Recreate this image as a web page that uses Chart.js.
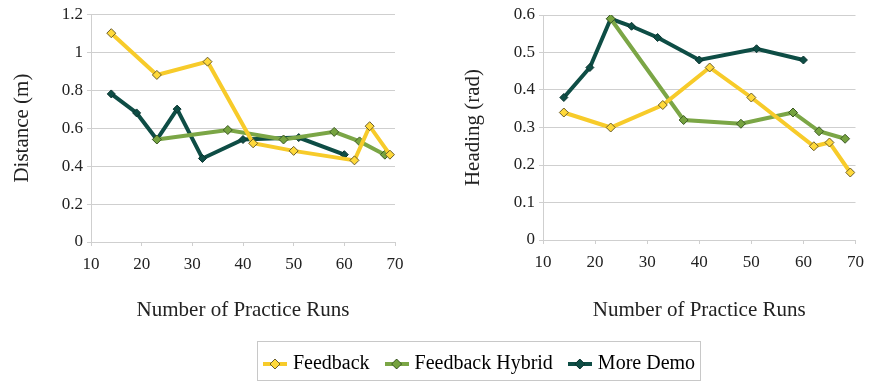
<!DOCTYPE html>
<html><head><meta charset="utf-8">
<script src="https://cdn.jsdelivr.net/npm/chart.js@4/dist/chart.umd.min.js"></script>
<style>
html,body{margin:0;padding:0;background:#fff;width:872px;height:383px;overflow:hidden}
#c1{position:absolute;left:0;top:0}
#c2{position:absolute;left:430px;top:0}
#lg{position:absolute;left:257px;top:341px;width:444px;height:40px;border:1px solid #c8c8c8;box-sizing:border-box}
#c3{position:absolute;left:181px;top:335px}
</style></head><body>
<div id="lg"></div>
<canvas id="c1" width="430" height="330"></canvas>
<canvas id="c2" width="442" height="330"></canvas>
<canvas id="c3" width="600" height="48"></canvas>
<script>
// ---- data ----
const seriesNames = ['Feedback', 'Feedback Hybrid', 'More Demo'];
const xTitle = 'Number of Practice Runs';
const leftTitle = 'Distance (m)';
const rightTitle = 'Heading (rad)';

const distFeedbackX = [14, 23, 33, 42, 50, 62, 65, 69];
const distFeedbackY = [1.10, 0.88, 0.95, 0.52, 0.48, 0.43, 0.61, 0.46];
const distHybridX = [23, 37, 48, 58, 63, 68];
const distHybridY = [0.54, 0.59, 0.54, 0.58, 0.53, 0.46];
const distDemoX = [14, 19, 23, 27, 32, 40, 51, 60];
const distDemoY = [0.78, 0.68, 0.54, 0.70, 0.44, 0.54, 0.55, 0.46];

const headFeedbackX = [14, 23, 33, 42, 50, 62, 65, 69];
const headFeedbackY = [0.34, 0.30, 0.36, 0.46, 0.38, 0.25, 0.26, 0.18];
const headHybridX = [23, 37, 48, 58, 63, 68];
const headHybridY = [0.59, 0.32, 0.31, 0.34, 0.29, 0.27];
const headDemoX = [14, 19, 23, 27, 32, 40, 51, 60];
const headDemoY = [0.38, 0.46, 0.59, 0.57, 0.54, 0.48, 0.51, 0.48];

const xTicks = [10, 20, 30, 40, 50, 60, 70];
const leftTicks = [0, 0.2, 0.4, 0.6, 0.8, 1, 1.2];
const rightTicks = [0, 0.1, 0.2, 0.3, 0.4, 0.5, 0.6];

// ---- styles ----
const FONT = "'Liberation Serif', 'Times New Roman', serif";
const TXT = '#222';
const GRID = '#cfcfcf';
const colors = {
  line: ['#F7CB2A', '#7BA646', '#0E4D45'],
  fill: ['#FFD93A', '#76A33F', '#0E4D45'],
  edge: ['#6b5d2a', '#3d5a25', '#0a3530']
};
const radius = [4.5, 4.5, 4];
const drawOrder = [0, 1, 2];

function pts(xs, ys) { return xs.map((x, i) => ({x: x, y: ys[i]})); }
const fmt = v => String(+Number(v).toFixed(2));

function ds(i, data) {
  return {
    label: seriesNames[i], data: data,
    borderColor: colors.line[i], backgroundColor: colors.fill[i],
    borderWidth: 4, tension: 0,
    pointStyle: 'rectRot', pointRadius: radius[i],
    pointBackgroundColor: colors.fill[i], pointBorderColor: colors.edge[i],
    pointBorderWidth: 1, order: drawOrder[i]
  };
}

function makeChart(id, datasets, yTicks, yTitle, cfg) {
  return new Chart(document.getElementById(id), {
    type: 'line',
    data: {datasets: datasets},
    options: {
      responsive: false, animation: false, devicePixelRatio: 1,
      layout: {padding: {left: 0, right: cfg.padRight, top: cfg.padTop, bottom: 0}},
      plugins: {legend: {display: false}, tooltip: {enabled: false}},
      scales: {
        x: {
          type: 'linear', min: xTicks[0], max: xTicks[xTicks.length - 1],
          afterBuildTicks: s => { s.ticks = xTicks.map(v => ({value: v})); },
          afterFit: s => { s.height = cfg.xHeight; },
          grid: {drawOnChartArea: false, drawTicks: true, tickLength: 4, color: GRID},
          border: {color: GRID, width: 1},
          ticks: {font: {family: FONT, size: 17}, color: TXT, padding: 8, maxRotation: 0, callback: fmt},
          title: {display: true, text: xTitle, font: {family: FONT, size: 21}, color: TXT,
                  padding: {top: 0, bottom: 7}}
        },
        y: {
          type: 'linear', min: yTicks[0], max: yTicks[yTicks.length - 1],
          afterBuildTicks: s => { s.ticks = yTicks.map(v => ({value: v})); },
          afterFit: s => { s.width = cfg.yWidth; },
          grid: {color: GRID, lineWidth: 1, drawTicks: true, tickLength: 4},
          border: {color: GRID, width: 1},
          ticks: {font: {family: FONT, size: 17}, color: TXT, padding: 4, callback: fmt},
          title: {display: true, text: yTitle, font: {family: FONT, size: 21}, color: TXT,
                  padding: {top: cfg.yTitlePad, bottom: 0}}
        }
      }
    }
  });
}

makeChart('c1', [
  ds(0, pts(distFeedbackX, distFeedbackY)),
  ds(1, pts(distHybridX, distHybridY)),
  ds(2, pts(distDemoX, distDemoY))
], leftTicks, leftTitle, {padRight: 35, padTop: 13, xHeight: 88, yWidth: 91, yTitlePad: 10});

makeChart('c2', [
  ds(0, pts(headFeedbackX, headFeedbackY)),
  ds(1, pts(headHybridX, headHybridY)),
  ds(2, pts(headDemoX, headDemoY))
], rightTicks, rightTitle, {padRight: 11, padTop: 15, xHeight: 90, yWidth: 113, yTitlePad: 31});

// legend symbols
function legendIcon(i) {
  const c = document.createElement('canvas');
  c.width = 24; c.height = 12;
  const g = c.getContext('2d');
  g.strokeStyle = colors.line[i]; g.lineWidth = 4;
  g.beginPath(); g.moveTo(0, 6); g.lineTo(24, 6); g.stroke();
  g.fillStyle = colors.fill[i]; g.strokeStyle = colors.edge[i]; g.lineWidth = 1;
  g.beginPath(); g.moveTo(12, 1); g.lineTo(17, 6); g.lineTo(12, 11); g.lineTo(7, 6); g.closePath();
  g.fill(); g.stroke();
  return c;
}
const icons = [0, 1, 2].map(legendIcon);

new Chart(document.getElementById('c3'), {
  type: 'line',
  data: {datasets: seriesNames.map((n, i) => ({label: n, data: [], borderColor: colors.line[i],
    backgroundColor: colors.fill[i], pointStyle: icons[i]}))},
  options: {
    responsive: false, animation: false, devicePixelRatio: 1,
    layout: {padding: 0},
    scales: {x: {display: false}, y: {display: false}},
    plugins: {
      tooltip: {enabled: false},
      legend: {
        display: true, position: 'top', maxHeight: 200,
        labels: {
          usePointStyle: true, pointStyleWidth: 16, padding: 19,
          font: {family: FONT, size: 20}, color: TXT,
          generateLabels: ch => seriesNames.map((n, i) => ({
            text: n, pointStyle: icons[i], fillStyle: colors.fill[i],
            strokeStyle: colors.line[i], lineWidth: 0, datasetIndex: i, hidden: false
          }))
        }
      }
    }
  }
});
</script>
</body></html>
